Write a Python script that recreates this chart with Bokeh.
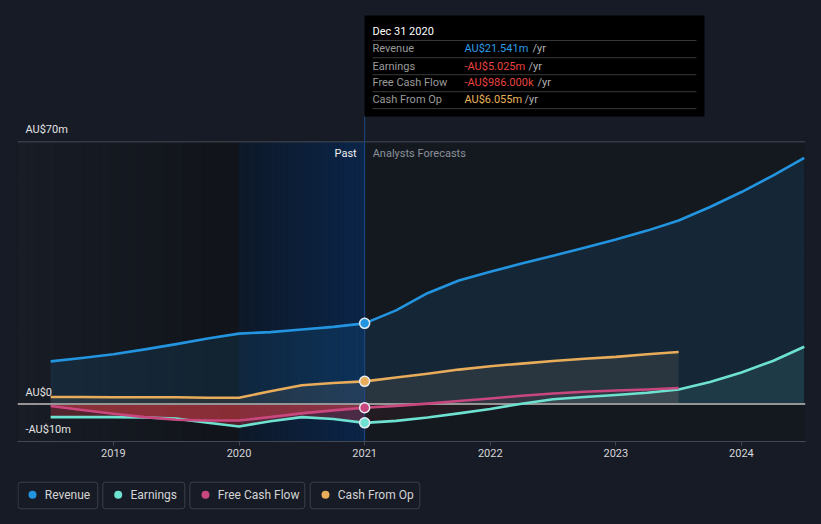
from bokeh.plotting import figure
from bokeh.models import Range1d, FixedTicker, PrintfTickFormatter
from bokeh.layouts import column
from bokeh.core.properties import value
from bokeh.embed import file_html
from bokeh.resources import INLINE
import numpy as np

# ---------------- data (AU$ millions) ----------------
years = [2018.5, 2018.75, 2019.0, 2019.25, 2019.5, 2019.75, 2020.0, 2020.25, 2020.5, 2020.75,
         2021.0, 2021.25, 2021.5, 2021.75, 2022.0, 2022.25, 2022.5, 2022.75, 2023.0, 2023.25,
         2023.5, 2023.75, 2024.0, 2024.25, 2024.5]
revenue = [11.4, 12.3, 13.3, 14.6, 16.0, 17.5, 18.8, 19.2, 19.9, 20.6,
           21.541, 25.0, 29.6, 33.0, 35.3, 37.5, 39.6, 41.7, 43.9, 46.3,
           49.0, 52.6, 56.6, 61.0, 65.7]
earnings = [-3.5, -3.5, -3.5, -3.6, -3.9, -5.0, -6.0, -4.6, -3.5, -4.0,
            -5.025, -4.5, -3.6, -2.5, -1.3, 0.1, 1.3, 1.9, 2.4, 3.0,
            3.9, 5.9, 8.4, 11.5, 15.3]
cf_years = years[:21]
fcf = [-0.5, -1.6, -2.6, -3.5, -4.2, -4.4, -4.4, -3.5, -2.5, -1.7,
       -0.986, -0.5, 0.1, 0.8, 1.5, 2.2, 2.8, 3.3, 3.6, 3.9, 4.3]
cfo = [1.9, 1.9, 1.8, 1.8, 1.8, 1.7, 1.7, 3.4, 5.0, 5.6,
       6.055, 7.1, 8.1, 9.2, 10.1, 10.8, 11.5, 12.1, 12.6, 13.3, 13.9]

series_names = ["Revenue", "Earnings", "Free Cash Flow", "Cash From Op"]
series_colors = ["#2394df", "#6ee2d0", "#c9477f", "#e8ac5a"]
x_ticks = [2019, 2020, 2021, 2022, 2023, 2024]
y_label_vals = [70, 0, -10]
y_label_text = ["AU$70m", "AU$0", "-AU$10m"]
grid_vals = [20, 40, 60]
today = 2021.0
tooltip_title = "Dec 31 2020"
tooltip_vals = ["AU$21.541m", "-AU$5.025m", "-AU$986.000k", "AU$6.055m"]
tooltip_val_colors = ["#2e9be6", "#e8443f", "#e8443f", "#e8b25a"]

FONT = "Roboto"
BG = "#161b26"

# ---------------- scales ----------------
X0, X1 = 2018.236, 2024.51
Y0, Y1 = -10.0, 105.6
PX_PER_YEAR = 125.6
PX_PER_M = 3.75


def px_x(px):  # page px -> data x
    return 2019 + (px - 113) / PX_PER_YEAR


def px_y(py):  # page px -> data y
    return (404 - py) / PX_PER_M


p = figure(width=805, height=462, x_range=Range1d(X0, X1), y_range=Range1d(Y0, Y1),
           output_backend="svg", toolbar_location=None, y_axis_location=None,
           min_border_left=9, min_border_right=8, min_border_top=0, min_border_bottom=29)
p.background_fill_color = BG
p.border_fill_color = BG
p.outline_line_color = None
p.xgrid.visible = False
p.ygrid.ticker = FixedTicker(ticks=grid_vals)
p.ygrid.grid_line_color = "#262c37"
p.ygrid.grid_line_width = 1

# plot area background
p.quad(left=X0, right=X1, bottom=-10, top=70, fill_color="#141920", line_color=None)
# past gradient (left)
n = 24
edges = np.linspace(X0, 2020.0, n + 1)
c0 = np.array([24, 29, 38]); c1 = np.array([17, 20, 26])
cols = []
for i in range(n):
    t = i / (n - 1)
    c = (c0 + (c1 - c0) * t).astype(int)
    cols.append("#%02x%02x%02x" % tuple(c))
p.quad(left=edges[:-1], right=edges[1:] + 0.002, bottom=-10, top=70, fill_color=cols, line_color=None)
# last year highlighted (blue gradient)
edges = np.linspace(2020.0, today, n + 1)
c0 = np.array([14, 25, 42]); c1 = np.array([11, 37, 72])
cols = []
for i in range(n):
    t = i / (n - 1)
    c = (c0 + (c1 - c0) * t).astype(int)
    cols.append("#%02x%02x%02x" % tuple(c))
p.quad(left=edges[:-1], right=edges[1:] + 0.002, bottom=-10, top=70, fill_color=cols, line_color=None)

# ---------------- area fills ----------------
yr = np.array(years); cy = np.array(cf_years)
rev = np.array(revenue); ear = np.array(earnings)
fc = np.array(fcf); co = np.array(cfo)
k = years.index(today) + 1  # past slice end
p.varea(x=yr, y1=0, y2=rev, fill_color="#2394df", fill_alpha=0.12)
p.varea(x=cy, y1=0, y2=co, fill_color="#a09070", fill_alpha=0.15)
p.varea(x=cy, y1=0, y2=np.maximum(fc, 0), fill_color="#c9477f", fill_alpha=0.07)
# negative parts: stronger red in the past, faint in forecasts
p.varea(x=cy[:k], y1=0, y2=np.minimum(fc, 0)[:k], fill_color="#e0404a", fill_alpha=0.4)
p.varea(x=cy[k - 1:], y1=0, y2=np.minimum(fc, 0)[k - 1:], fill_color="#e0404a", fill_alpha=0.08)
p.varea(x=yr, y1=0, y2=np.maximum(ear, 0), fill_color="#6ee2d0", fill_alpha=0.1)
p.varea(x=yr[:k], y1=0, y2=np.minimum(ear, 0)[:k], fill_color="#e0404a", fill_alpha=0.3)
p.varea(x=yr[k - 1:], y1=0, y2=np.minimum(ear, 0)[k - 1:], fill_color="#e0404a", fill_alpha=0.07)

# reference lines
p.segment(x0=X0, x1=X1, y0=70, y1=70, line_color="#474c56", line_width=1)
p.segment(x0=X0, x1=X1, y0=0, y1=0, line_color="#959595", line_width=2)
p.segment(x0=today, x1=today, y0=Y0, y1=px_y(116), line_color="#1e4a8a", line_width=1)

# ---------------- lines ----------------
p.line(yr, rev, line_color=series_colors[0], line_width=2.6, line_join="round")
p.line(cy, co, line_color=series_colors[3], line_width=2.6, line_join="round")
p.line(yr, ear, line_color=series_colors[1], line_width=2.6, line_join="round")
p.line(cy, fc, line_color=series_colors[2], line_width=2.6, line_join="round")

idx = years.index(today)
p.scatter([today] * 4, [revenue[idx], earnings[idx], fcf[idx], cfo[idx]], size=10,
          fill_color=series_colors, line_color="#e6ecf2", line_width=1.5)

# ---------------- text ----------------
p.text(x=[px_x(25)] * 3, y=y_label_vals, text=y_label_text, y_offset=-12,
       text_font=value(FONT), text_font_size="11px", text_color="#e2e2e2",
       text_baseline="middle", text_align="left")
p.text(x=[today], y=[70], text=["Past"], x_offset=-8, y_offset=12,
       text_font=value(FONT), text_font_size="11px", text_color="#f0f0f0",
       text_baseline="middle", text_align="right")
p.text(x=[today], y=[70], text=["Analysts Forecasts"], x_offset=8, y_offset=12,
       text_font=value(FONT), text_font_size="11px", text_color="#8b9099",
       text_baseline="middle", text_align="left")

# tooltip
p.quad(left=today, right=px_x(704), top=px_y(15), bottom=px_y(116), fill_color="#000000", line_color=None)
sep_y = [px_y(v) for v in (40, 57.3, 74.3, 91.3, 108.3)]
p.segment(x0=px_x(372), x1=px_x(696), y0=sep_y, y1=sep_y, line_color="#3a3a3a", line_width=1)
p.text(x=[px_x(372)], y=[px_y(31)], text=[tooltip_title], text_font=value(FONT),
       text_font_size="11px", text_color="#ffffff", text_baseline="middle")
row_y = [px_y(v) for v in (48.3, 65.7, 82.3, 99.3)]
p.text(x=[px_x(372)] * 4, y=row_y, text=series_names, text_font=value(FONT),
       text_font_size="11px", text_color="#9a9a9a", text_baseline="middle")
p.text(x=[px_x(464)] * 4, y=row_y, text=tooltip_vals, text_font=value(FONT),
       text_font_size="11px", text_color=tooltip_val_colors, text_baseline="middle")
p.text(x=[px_x(v) for v in (532, 528, 537, 524)], y=row_y, text=["/yr"] * 4, text_font=value(FONT),
       text_font_size="11px", text_color="#b0b0b0", text_baseline="middle")

# x axis
p.xaxis.ticker = FixedTicker(ticks=x_ticks)
p.xaxis.formatter = PrintfTickFormatter(format="%d")
p.xaxis.axis_line_color = "#434853"
p.xaxis.major_tick_line_color = "#434853"
p.xaxis.major_tick_out = 4
p.xaxis.major_tick_in = 0
p.xaxis.minor_tick_line_color = None
p.xaxis.major_label_standoff = 3
p.xaxis.major_label_text_font = FONT
p.xaxis.major_label_text_font_size = "11px"
p.xaxis.major_label_text_color = "#d6d6d6"

# ---------------- legend row ----------------
# the column layout aligns this frame with the main frame (page x 17..805),
# so the legend uses page-pixel coordinates
leg = figure(width=805, height=46, x_range=Range1d(17, 805), y_range=Range1d(46, 0),
             output_backend="svg", toolbar_location=None, x_axis_location=None, y_axis_location=None,
             min_border=0, min_border_left=9, min_border_right=8, min_border_top=0, min_border_bottom=0)
leg.background_fill_color = BG
leg.border_fill_color = BG
leg.outline_line_color = None
leg.grid.visible = False
box_l = [17.5, 102.3, 189.3, 309.7]
box_r = [97.3, 184.3, 304.3, 419.3]
dot_x = [32, 117.7, 205, 325]
leg.quad(left=box_l, right=box_r, top=11.7, bottom=38.3, fill_color=None,
         line_color="#3b404b", line_width=1, border_radius=3)
leg.scatter(dot_x, [24.3] * 4, size=8, fill_color=series_colors, line_color=None)
leg.text(x=[d + 12.3 for d in dot_x], y=[24.3] * 4, text=series_names, text_font=value(FONT),
         text_font_size="12px", text_color="#d4d4d4", text_baseline="middle")

layout = column(p, leg, spacing=0)
html = file_html(layout, INLINE)
html = html.replace("</head>", "<style>html,body{background:#161b26;margin:0;padding:0}body{margin:8px}</style></head>")
open("out.html", "w").write(html)
